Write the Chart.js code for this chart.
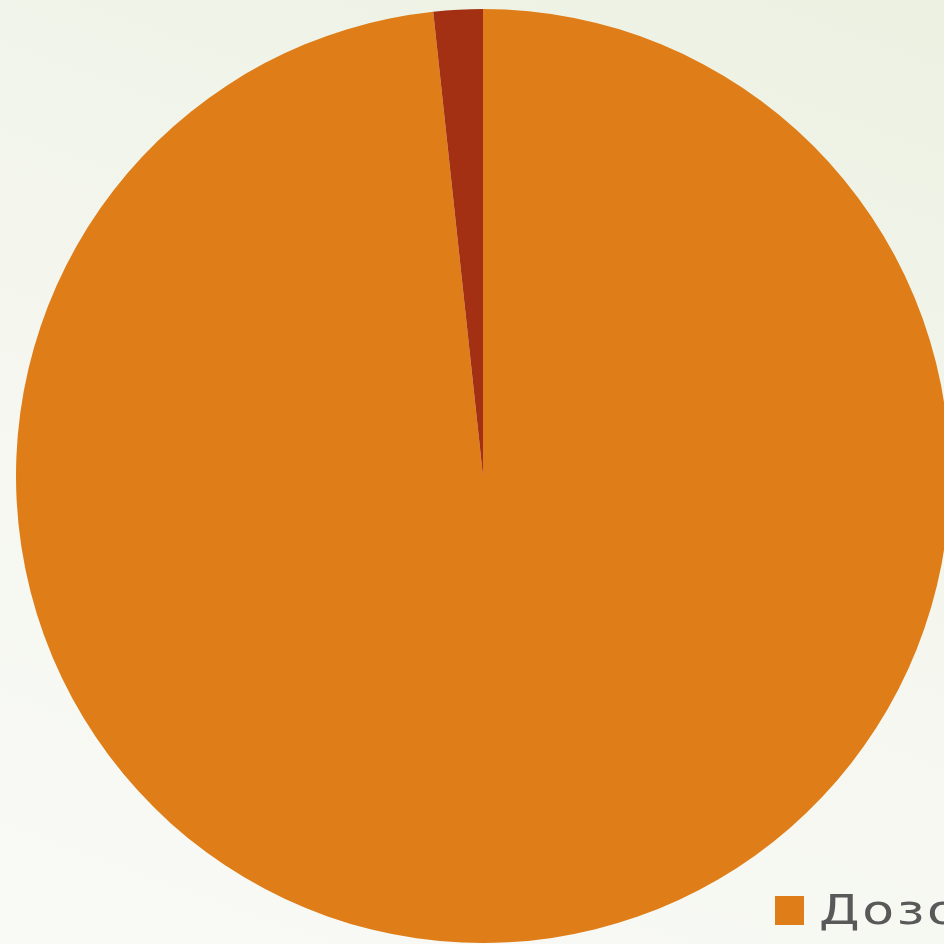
<!DOCTYPE html>
<html>
<head>
<meta charset="utf-8">
<script src="https://cdn.jsdelivr.net/npm/chart.js@4.4.1/dist/chart.umd.min.js"></script>
<style>
  html, body {
    margin: 0;
    padding: 0;
    width: 944px;
    height: 944px;
    overflow: hidden;
  }
  body {
    position: relative;
    background: linear-gradient(200deg, #ecf1e2 0%, #f4f6ee 45%, #f9faf6 100%);
  }
  #wrap {
    position: absolute;
    left: 16px;
    top: 9px;
    width: 934px;
    height: 934px;
  }
  #legend {
    position: absolute;
    left: 775px;
    top: 887px;
    display: flex;
    align-items: center;
    white-space: nowrap;
    font-family: "DejaVu Sans", sans-serif;
    font-size: 40px;
    letter-spacing: 2px;
    color: #595959;
  }
  #legend .box {
    width: 29px;
    height: 29px;
    margin-right: 15px;
  }
  #legend .txt {
    display: inline-block;
    transform: scaleX(1.3);
    transform-origin: left center;
  }
</style>
</head>
<body>
<div id="wrap"><canvas id="pie" width="934" height="934"></canvas></div>
<div id="legend"></div>
<script>
// Data
const labels = ['Дозоры', 'Прочее'];
const values = [98.3, 1.7];
const colors = ['#df7e19', '#a33012'];

const ctx = document.getElementById('pie');
const chart = new Chart(ctx, {
    type: 'pie',
    data: {
        labels: labels,
        datasets: [{
            data: values,
            backgroundColor: colors,
            borderWidth: 0,
        }],
    },
    options: {
        responsive: false,
        devicePixelRatio: 1,
        animation: false,
        layout: { padding: 0 },
        plugins: {
            legend: { display: false },
            tooltip: { enabled: false },
        },
    },
});

// Only the first entry of the legend is visible in the reference
const legend = document.getElementById('legend');
const first = chart.options.plugins.legend.labels.generateLabels(chart)[0];
const box = document.createElement('span');
box.className = 'box';
box.style.background = first.fillStyle;
const txt = document.createElement('span');
txt.className = 'txt';
txt.textContent = first.text;
legend.appendChild(box);
legend.appendChild(txt);
</script>
</body>
</html>
